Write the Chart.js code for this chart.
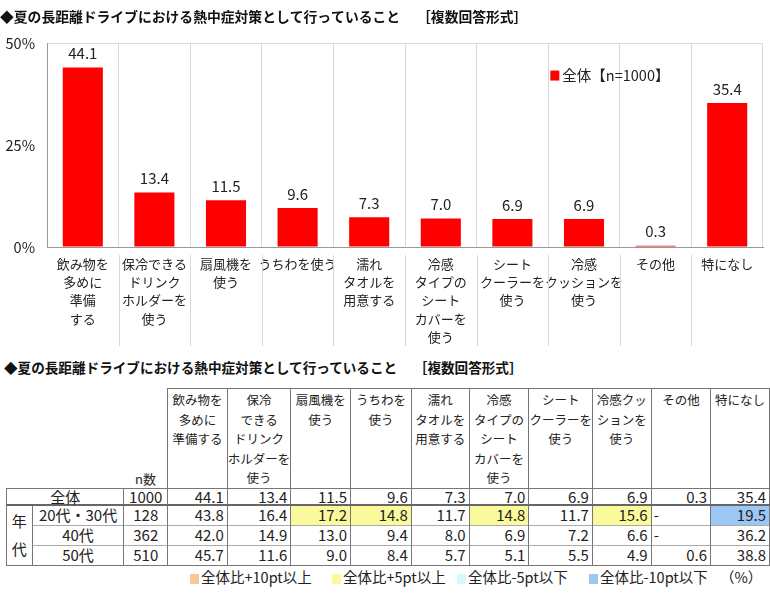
<!DOCTYPE html>
<html>
<head>
<meta charset="utf-8">
<script src="https://cdn.jsdelivr.net/npm/chart.js@4.4.1/dist/chart.umd.min.js"></script>
<style>
  html, body { margin: 0; padding: 0; background: #fff; }
  body { width: 770px; height: 593px; position: relative; overflow: hidden;
         font-family: "Noto Sans CJK JP", "Noto Sans", sans-serif; color: #222; }
  #chartBox { position: absolute; left: 0; top: 0; width: 770px; height: 350px; }
  #tableTitle { position: absolute; left: 4px; top: 357px; font-size: 13.6px; font-weight: bold; color: #111; white-space: pre; }
  #tbl { position: absolute; left: 6px; top: 388px; border-collapse: collapse; table-layout: fixed; }
  #tbl td { padding: 0; font-size: 15px; line-height: 18px; height: 19px; white-space: nowrap; }
  #tbl tr.head td { height: 96px; }
  #tbl tr.total td { height: 15px; line-height: 15px; }
  #tbl td.h { border: 1px solid #777; font-size: 12.5px; line-height: 19.5px; vertical-align: top; text-align: center; padding-top: 1px; }
  #tbl td.nh { vertical-align: bottom; text-align: center; font-size: 13px; line-height: 16px; padding-bottom: 1px; }
  #tbl td.v { text-align: right; padding-right: 3px; border-left: 1px solid #777; border-right: 1px solid #777; }
  #tbl td.dash { text-align: left; padding-left: 2px; }
  #tbl td.lab { text-align: center; border-left: 1px solid #777; border-right: 1px solid #777; }
  #tbl tr.r td { border-top: 1px solid #aaa; }
  #tbl tr.total td { border-top: 1px solid #777; border-bottom: 2px solid #666; }
  #tbl tr.last td { border-bottom: 1px solid #777; }
  #tbl td.era { text-align: center; vertical-align: middle; line-height: 28px; border: 1px solid #777; }
  .p5 { background: #fafa9c; }
  .p10 { background: #f8c898; }
  .m5 { background: #d6fafa; }
  .m10 { background: #9cc6f4; }
  .lg { position: absolute; top: 568px; font-size: 14.5px; line-height: 18px; white-space: nowrap; color: #222; }
  .lg i { display: inline-block; width: 9px; height: 10px; margin-right: 2px; vertical-align: -1px; }
</style>
</head>
<body>
<div id="chartBox"><canvas id="driveChart"></canvas></div>
<div id="tableTitle">◆夏の長距離ドライブにおける熱中症対策として行っていること　 ［複数回答形式］</div>
<table id="tbl"></table>
<div class="lg" style="left:190px"><i class="p10"></i>全体比+10pt以上</div>
<div class="lg" style="left:332px"><i class="p5"></i>全体比+5pt以上</div>
<div class="lg" style="left:457px"><i class="m5"></i>全体比-5pt以下</div>
<div class="lg" style="left:589px"><i class="m10"></i>全体比-10pt以下</div>
<div class="lg" style="left:720px">（%）</div>

<script>
const FONT = '"Noto Sans CJK JP", "Noto Sans", sans-serif';

// chart categories (multi-line axis labels)
const chartLabels = [
    ['飲み物を', '多めに', '準備', 'する'],
    ['保冷できる', 'ドリンク', 'ホルダーを', '使う'],
    ['扇風機を', '使う'],
    ['うちわを使う'],
    ['濡れ', 'タオルを', '用意する'],
    ['冷感', 'タイプの', 'シート', 'カバーを', '使う'],
    ['シート', 'クーラーを', '使う'],
    ['冷感', 'クッションを', '使う'],
    ['その他'],
    ['特になし']
];

// table header labels
const tableHeads = [
    ['飲み物を', '多めに', '準備する'],
    ['保冷', 'できる', 'ドリンク', 'ホルダーを', '使う'],
    ['扇風機を', '使う'],
    ['うちわを', '使う'],
    ['濡れ', 'タオルを', '用意する'],
    ['冷感', 'タイプの', 'シート', 'カバーを', '使う'],
    ['シート', 'クーラーを', '使う'],
    ['冷感クッ', 'ションを', '使う'],
    ['その他'],
    ['特になし']
];

// values (%)
const totalValues = [44.1, 13.4, 11.5, 9.6, 7.3, 7.0, 6.9, 6.9, 0.3, 35.4];
const age2030Values = [43.8, 16.4, 17.2, 14.8, 11.7, 14.8, 11.7, 15.6, null, 19.5];
const age40Values = [42.0, 14.9, 13.0, 9.4, 8.0, 6.9, 7.2, 6.6, null, 36.2];
const age50Values = [45.7, 11.6, 9.0, 8.4, 5.7, 5.1, 5.5, 4.9, 0.6, 38.8];

const groupNames = ['20代・30代', '40代', '50代'];
const groupN = [128, 362, 510];
const totalN = 1000;
const yTicks = [0, 25, 50];

// numbers above bars
const valueLabels = {
    id: 'valueLabels',
    afterDatasetsDraw(chart) {
        const ctx = chart.ctx;
        const meta = chart.getDatasetMeta(0);
        ctx.save();
        ctx.font = '15px ' + FONT;
        ctx.fillStyle = '#222';
        ctx.textAlign = 'center';
        ctx.textBaseline = 'middle';
        meta.data.forEach((bar, i) => {
            ctx.fillText(totalValues[i].toFixed(1), bar.x, bar.y - 14);
        });
        ctx.restore();
    }
};

// separator lines running down between the category labels
const labelSeparators = {
    id: 'labelSeparators',
    afterDraw(chart) {
        const x = chart.scales.x;
        const ctx = chart.ctx;
        ctx.save();
        ctx.strokeStyle = '#d9d9d9';
        ctx.lineWidth = 1;
        for (let i = 1; i < chartLabels.length; i++) {
            const px = Math.round((x.getPixelForTick(i - 1) + x.getPixelForTick(i)) / 2) + 0.5;
            ctx.beginPath();
            ctx.moveTo(px, x.top + 8);
            ctx.lineTo(px, x.top + 99);
            ctx.stroke();
        }
        ctx.restore();
    }
};

// legend sitting inside the plot
const innerLegend = {
    id: 'innerLegend',
    afterDraw(chart) {
        const ctx = chart.ctx;
        const a = chart.chartArea;
        const x = a.left + (a.right - a.left) * 0.703;
        const y = a.top + 32;
        ctx.save();
        ctx.fillStyle = '#ff0000';
        ctx.fillRect(x, y - 5, 9, 10);
        ctx.font = '14.5px ' + FONT;
        ctx.fillStyle = '#222';
        ctx.textBaseline = 'middle';
        ctx.fillText(chart.data.datasets[0].label, x + 12, y);
        ctx.restore();
    }
};

new Chart(document.getElementById('driveChart'), {
    type: 'bar',
    data: {
        labels: chartLabels,
        datasets: [{
            label: '全体【n=1000】',
            data: totalValues,
            backgroundColor: '#ff0000',
            categoryPercentage: 1,
            barPercentage: 0.56
        }]
    },
    plugins: [valueLabels, labelSeparators, innerLegend],
    options: {
        responsive: true,
        maintainAspectRatio: false,
        animation: false,
        layout: { padding: { left: 0, right: 7, top: 0, bottom: 0 } },
        plugins: {
            legend: { display: false },
            tooltip: { enabled: false },
            title: {
                display: true,
                align: 'start',
                text: '◆夏の長距離ドライブにおける熱中症対策として行っていること　 ［複数回答形式］',
                color: '#111',
                font: { family: FONT, size: 13.8, weight: 'bold' },
                padding: { top: 8, bottom: 19 }
            }
        },
        scales: {
            x: {
                grid: { offset: true, color: '#d9d9d9', drawTicks: false },
                border: { color: '#999' },
                afterFit: (s) => { s.height = 103; },
                ticks: {
                    padding: 8,
                    autoSkip: false,
                    maxRotation: 0,
                    color: '#222',
                    font: { family: FONT, size: 13, lineHeight: 1.4 }
                }
            },
            y: {
                min: 0,
                max: 50,
                afterBuildTicks: (s) => { s.ticks = yTicks.map(v => ({ value: v })); },
                afterFit: (s) => { s.width = 47; },
                grid: {
                    drawTicks: false,
                    color: (c) => (c.tick && c.tick.value === 50) ? '#d9d9d9' : 'transparent'
                },
                border: { color: '#999' },
                ticks: {
                    padding: 12,
                    color: '#222',
                    font: { family: FONT, size: 14.5 },
                    callback: (v) => v + '%'
                }
            }
        }
    }
});

// build the table
const colWidths = [26, 92, 44, 60, 60, 60, 61, 58, 60, 60, 59, 60, 59];
const fmt = (v) => v === null ? '-' : v.toFixed(1);
function cellClass(v, i) {
    if (v === null) return 'v dash';
    const d = v - totalValues[i];
    if (d >= 10) return 'v p10';
    if (d >= 5) return 'v p5';
    if (d <= -10) return 'v m10';
    if (d <= -5) return 'v m5';
    return 'v';
}

let html = '<colgroup>' + colWidths.map(w => `<col style="width:${w}px">`).join('') + '</colgroup>';
html += '<tr class="head"><td></td><td></td><td class="nh">n数</td>' +
    tableHeads.map(h => `<td class="h">${h.join('<br>')}</td>`).join('') + '</tr>';
html += `<tr class="total"><td class="lab" colspan="2">全体</td><td class="lab">${totalN}</td>` +
    totalValues.map(v => `<td class="${v === null ? 'v dash' : 'v'}">${fmt(v)}</td>`).join('') + '</tr>';
const groups = [age2030Values, age40Values, age50Values];
groups.forEach((vals, g) => {
    let cls = g === 0 ? '' : 'r';
    if (g === groups.length - 1) cls += ' last';
    html += `<tr class="${cls}">`;
    if (g === 0) html += `<td class="era" rowspan="3">年<br>代</td>`;
    html += `<td class="lab">${groupNames[g]}</td><td class="lab">${groupN[g]}</td>`;
    html += vals.map((v, i) => `<td class="${cellClass(v, i)}">${fmt(v)}</td>`).join('');
    html += '</tr>';
});
document.getElementById('tbl').innerHTML = html;
</script>
</body>
</html>
